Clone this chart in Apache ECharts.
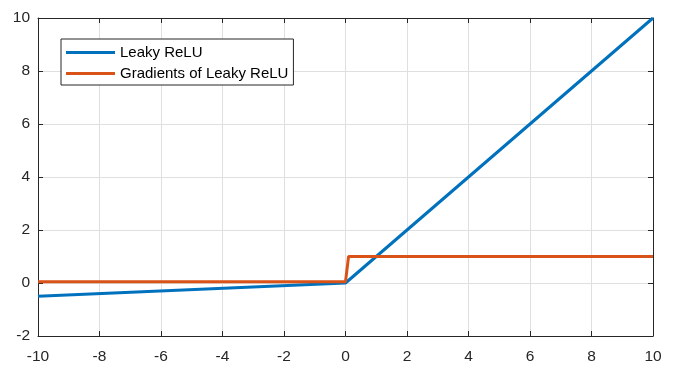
<!DOCTYPE html>
<html>
<head>
<meta charset="utf-8">
<script src="https://cdn.jsdelivr.net/npm/echarts@6/dist/echarts.min.js"></script>
<style>html,body{margin:0;padding:0;background:#fff;}#c{width:678px;height:373px;}</style>
</head>
<body>
<div id="c"></div>
<script>
var seriesNames = ['Leaky ReLU', 'Gradients of Leaky ReLU'];
var leakyX = [-10, 0, 10];
var leakyY = [-0.5, 0, 10];
var gradX = [-10, 0, 0.1, 10];
var gradY = [0.05, 0.05, 1, 1];
var xMin = -10, xMax = 10, xStep = 2;
var yMin = -2, yMax = 10, yStep = 2;

function pairs(xs, ys){ return xs.map(function(x,i){ return [x, ys[i]]; }); }

var axisColor = '#262626';
var font = 'Liberation Sans, Arial, sans-serif';
function mkX(pos, show){
  return {type:'value', position:pos, min:xMin, max:xMax, interval:xStep,
    axisLine:{show:true, onZero:false, lineStyle:{color:axisColor, width:1}},
    axisTick:{show:true, inside:true, length:5, lineStyle:{color:axisColor}},
    axisLabel:{show:show, color:axisColor, fontSize:15.5, fontFamily:font, margin:13},
    splitLine:{show:show, lineStyle:{color:'#dfdfdf', width:1}}};
}
function mkY(pos, show){
  return {type:'value', position:pos, min:yMin, max:yMax, interval:yStep,
    axisLine:{show:true, onZero:false, lineStyle:{color:axisColor, width:1}},
    axisTick:{show:true, inside:true, length:5, lineStyle:{color:axisColor}},
    axisLabel:{show:show, color:axisColor, fontSize:15.5, fontFamily:font, margin:8},
    splitLine:{show:show, lineStyle:{color:'#dfdfdf', width:1}}};
}
var chart = echarts.init(document.getElementById('c'), null, {renderer:'canvas'});
chart.setOption({
  animation:false,
  backgroundColor:'#fff',
  grid:{left:38, right:25, top:18, bottom:37, containLabel:false},
  xAxis:[mkX('bottom', true), mkX('top', false)],
  yAxis:[mkY('left', true), mkY('right', false)],
  legend:{
    orient:'vertical', left:61, top:39,
    data:[{name:seriesNames[0], icon:'rect'},{name:seriesNames[1], icon:'rect'}],
    itemWidth:49, itemHeight:3, itemGap:6,
    padding:[6,5,4,5],
    borderColor:'#262626', borderWidth:1, borderRadius:0,
    backgroundColor:'#fff',
    textStyle:{color:'#000', fontSize:15, fontFamily:font, lineHeight:15}
  },
  series:[
    {name:seriesNames[0], type:'line', data:pairs(leakyX, leakyY), showSymbol:false, symbol:'none',
     lineStyle:{color:'#0072BD', width:3}, itemStyle:{color:'#0072BD'}, z:3},
    {name:seriesNames[1], type:'line', data:pairs(gradX, gradY), showSymbol:false, symbol:'none',
     lineStyle:{color:'#D95319', width:3}, itemStyle:{color:'#D95319'}, z:4}
  ]
});
</script>
</body>
</html>
